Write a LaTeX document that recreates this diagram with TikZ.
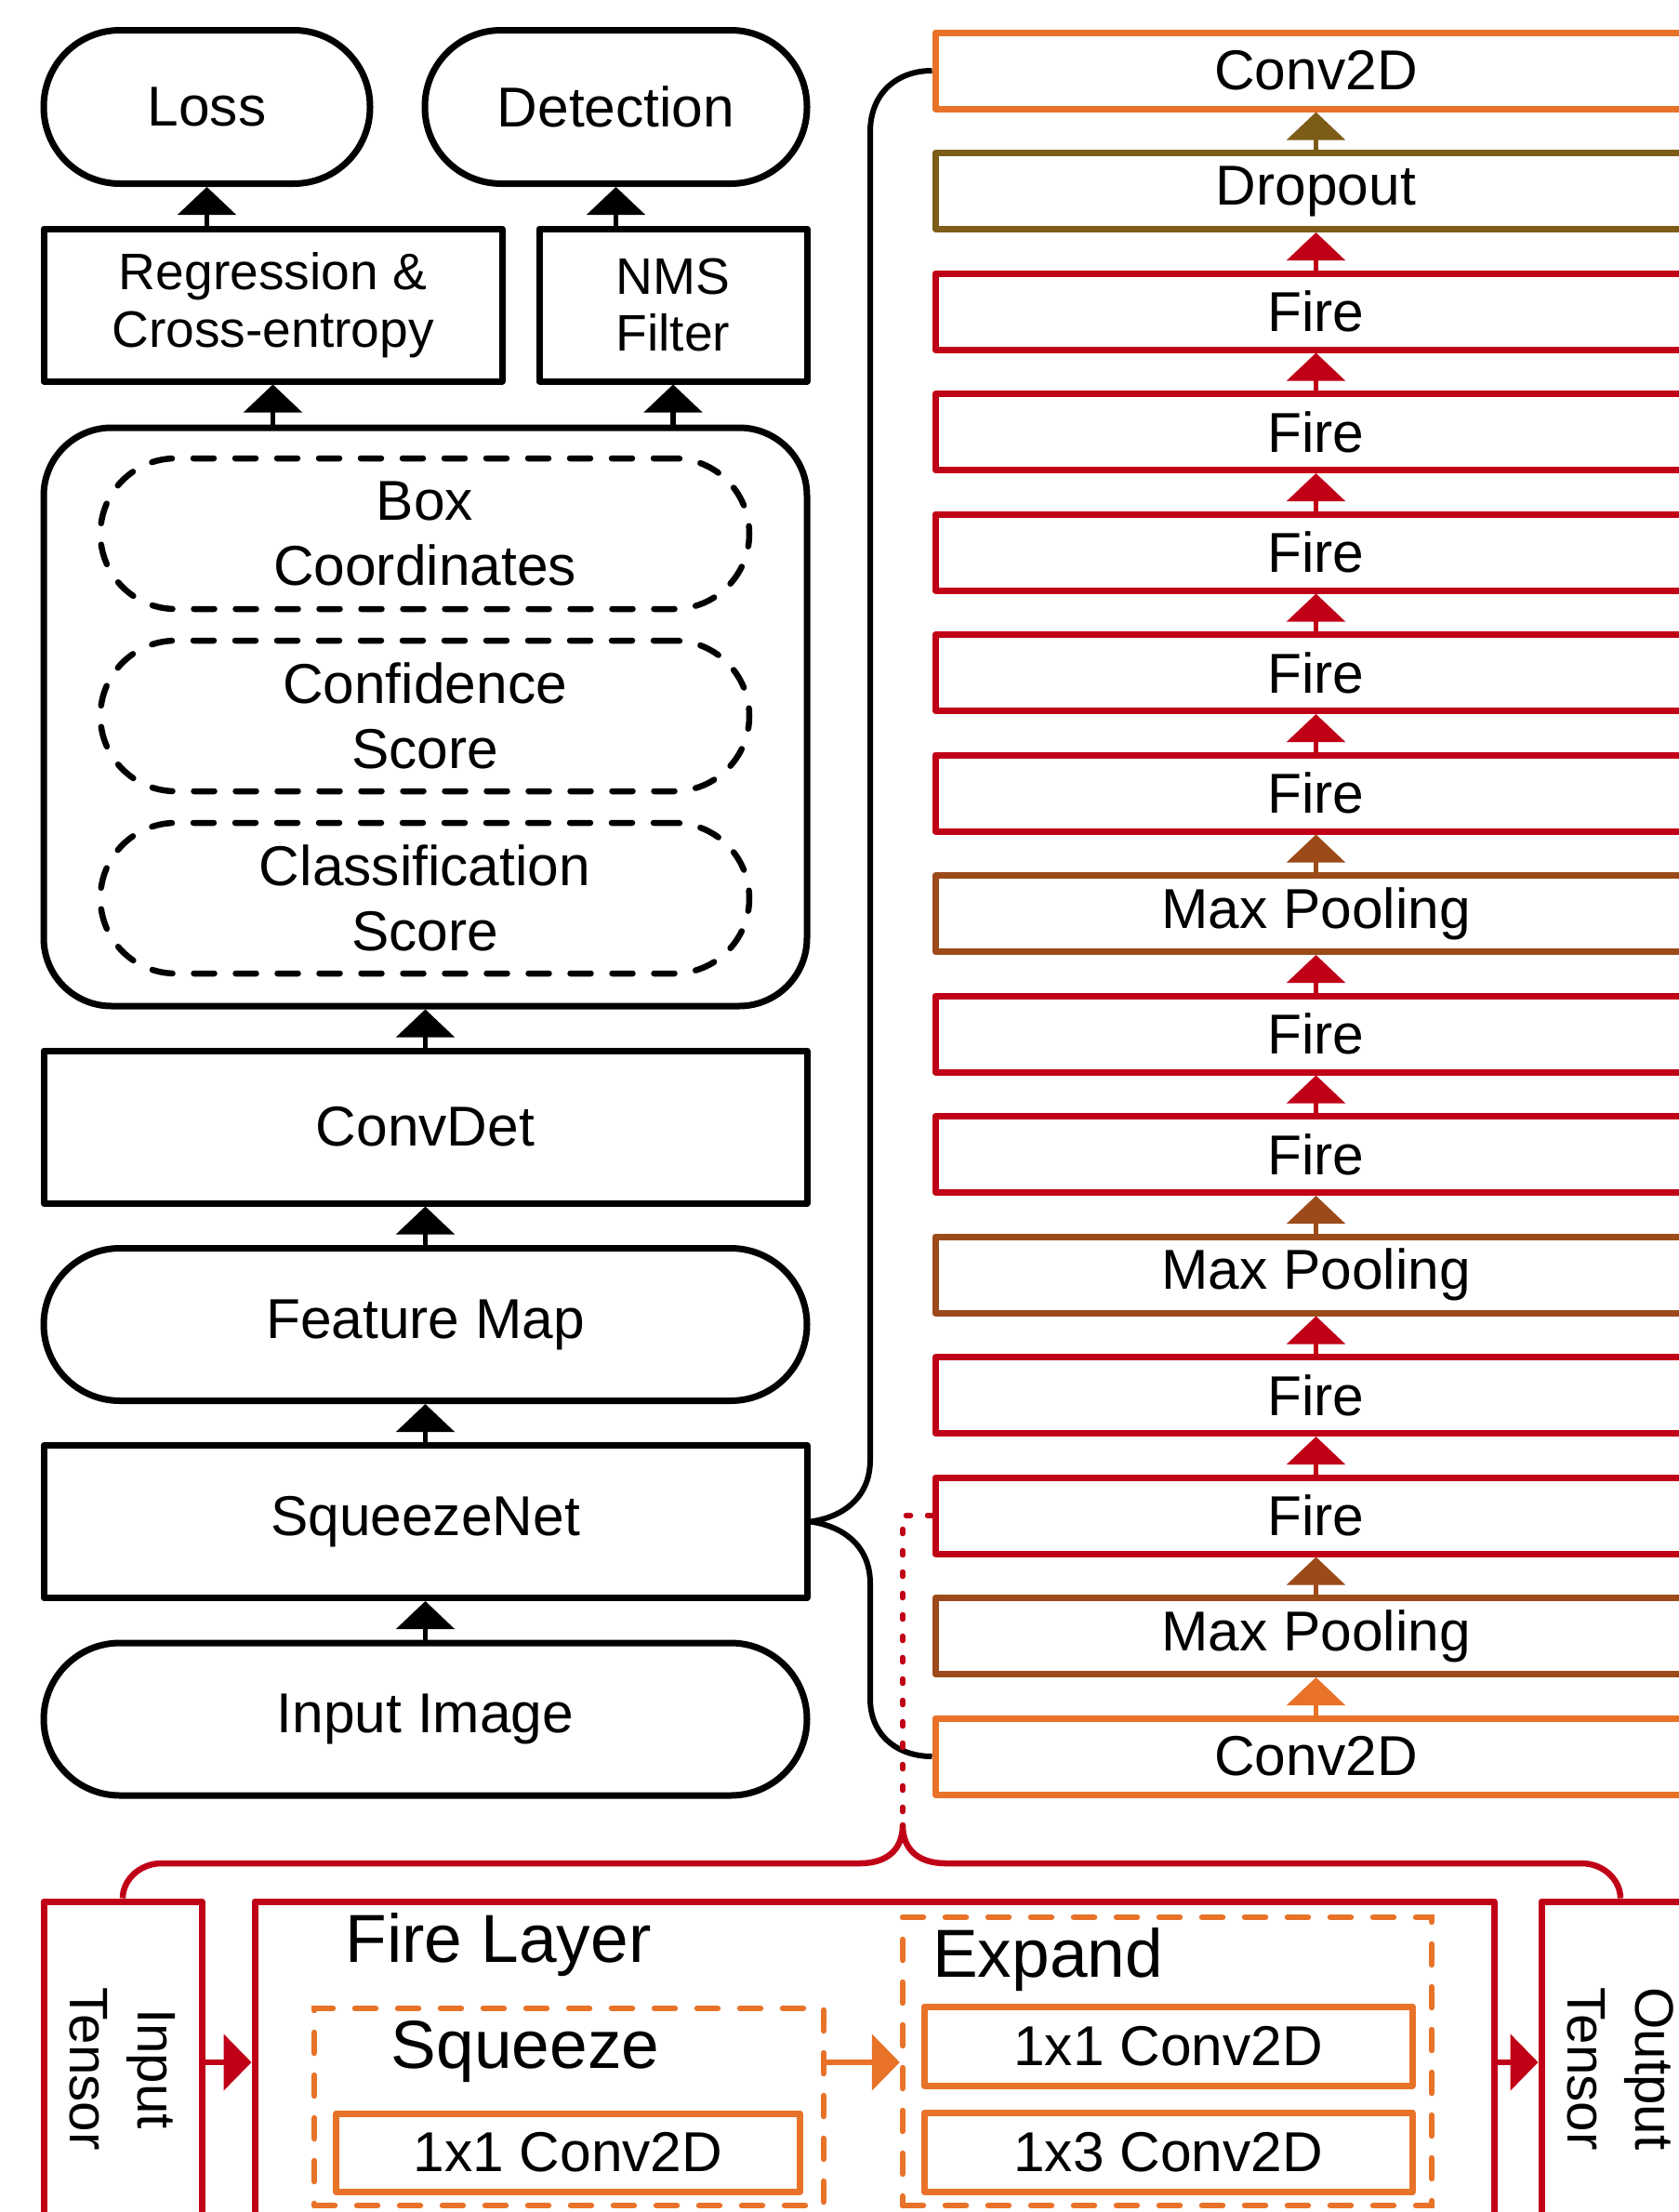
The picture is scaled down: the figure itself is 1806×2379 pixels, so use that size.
\documentclass[tikz,border=0pt]{standalone}
\usepackage{fontspec}
\setmainfont{Liberation Sans}
\usetikzlibrary{arrows.meta}

\definecolor{cvorange}{RGB}{232,114,40}
\definecolor{fired}{RGB}{192,0,23}
\definecolor{poolbrown}{RGB}{156,74,26}
\definecolor{dropolive}{RGB}{125,92,24}

\begin{document}
\begin{tikzpicture}[x=0.1mm, y=-0.1mm,
  lbl/.style={font=\fontsize{17.2}{19.9}\selectfont, align=center},
  smalllbl/.style={font=\fontsize{15.7}{17.6}\selectfont, align=center},
  biglbl/.style={font=\fontsize{20.8}{24}\selectfont, anchor=base},
  tensorlbl/.style={font=\fontsize{16.6}{20.8}\selectfont, align=center, rotate=-90},
  blk/.style={draw=black, line width=0.7mm, lbl, inner sep=0pt, line join=round},
  pill/.style={blk, rounded corners=8.2mm},
  dpill/.style={draw=black, line width=0.65mm, line cap=round, dash pattern=on 2.2mm off 2.3mm,
                rounded corners=8.1mm, lbl, inner sep=0pt, minimum width=69.8mm, minimum height=16.2mm},
  netlayer/.style={draw=#1, line width=0.7mm, lbl, minimum width=81.9mm, minimum height=8.2mm,
                   inner sep=0pt, line join=round},
  redbox/.style={draw=fired, line width=0.7mm, inner sep=0pt, line join=round},
  orbox/.style={draw=cvorange, line width=0.7mm, inner sep=0pt, line join=round, lbl},
  ordash/.style={draw=cvorange, line width=0.65mm, line cap=round, dash pattern=on 2.2mm off 2.4mm, inner sep=0pt},
  uparr/.style={draw=#1, color=#1, line width=0.55mm, -{Triangle[width=6.2mm,length=3mm]}},
  rarr/.style={draw=#1, color=#1, line width=0.55mm, -{Triangle[width=6mm,length=3mm]}},
]
\fill[white] (0,0) rectangle (1806,2379);
\useasboundingbox (0,0) rectangle (1806,2379);
\clip (0,0) rectangle (1806,2379);

% ---------------- detection pipeline (left column) ----------------
\node[pill, minimum width=35.1mm, minimum height=16.5mm] (loss) at (222.5,115) {Loss};
\node[pill, minimum width=41.1mm, minimum height=16.5mm] (det) at (662.5,115) {Detection};
\node[blk, smalllbl, minimum width=49.3mm, minimum height=16.4mm] (reg) at (293.5,328) {Regression \&\\Cross-entropy};
\node[blk, smalllbl, minimum width=28.8mm, minimum height=16.4mm] (nms) at (724,328) {NMS\\Filter};

\node[blk, rounded corners=7.3mm, minimum width=82.1mm, minimum height=62.2mm] (heads) at (457.5,771) {};
\node[dpill] (boxc) at (457,574) {Box\\Coordinates};
\node[dpill] (conf) at (457,770) {Confidence\\Score};
\node[dpill] (cls) at (457,966) {Classification\\Score};

\node[blk, minimum width=82.1mm, minimum height=16.4mm] (cdet) at (457.5,1212) {ConvDet};
\node[pill, minimum width=82.1mm, minimum height=16.4mm] (fmap) at (457.5,1424.5) {Feature Map};
\node[blk, minimum width=82.1mm, minimum height=16.4mm] (sqz) at (457.5,1636.5) {SqueezeNet};
\node[pill, minimum width=82.1mm, minimum height=16.4mm] (inimg) at (457.5,1849) {Input Image};

\draw[uparr=black] (inimg.north) -- (sqz.south);
\draw[uparr=black] (sqz.north) -- (fmap.south);
\draw[uparr=black] (fmap.north) -- (cdet.south);
\draw[uparr=black] (cdet.north) -- (heads.south);
\draw[uparr=black] (heads.north -| reg) -- (reg.south);
\draw[uparr=black] (heads.north -| nms) -- (nms.south);
\draw[uparr=black] (reg.north -| loss) -- (loss.south);
\draw[uparr=black] (nms.north -| det) -- (det.south);

% ---------------- SqueezeNet layers (right column) ----------------
\foreach \t/\c [count=\i from 0] in {Conv2D/cvorange, Dropout/dropolive, Fire/fired, Fire/fired,
    Fire/fired, Fire/fired, Fire/fired, Max Pooling/poolbrown, Fire/fired, Fire/fired,
    Max Pooling/poolbrown, Fire/fired, Fire/fired, Max Pooling/poolbrown, Conv2D/cvorange}
  \node[netlayer=\c] (r\i) at (1415.5,{76+129.5*\i}) {\t};

\foreach \c [count=\i from 1] in {dropolive, fired, fired, fired, fired, fired, poolbrown,
    fired, fired, poolbrown, fired, fired, poolbrown, cvorange} {
  \pgfmathtruncatemacro\j{\i-1}
  \draw[uparr=\c] (r\i.north) -- (r\j.south);
}

% brace from SqueezeNet to its first and last layer
\draw[line width=0.6mm, line join=round] (r0.west) .. controls (965,76) and (936,100) .. (936,142)
  -- (936,1570) .. controls (936,1612) and (905,1632) .. (sqz.east)
  .. controls (905,1641) and (936,1661) .. (936,1703)
  -- (936,1827) .. controls (936,1866) and (965,1889) .. (r14.west);

% ---------------- Fire layer detail (bottom) ----------------
\coordinate (ftip) at (971,1963);
\draw[fired, line width=0.55mm, line cap=round, dash pattern=on 0.5mm off 1.8mm]
  (r12.west) -- (r12.west -| ftip) -- (ftip);

\node[redbox, minimum width=17mm, minimum height=36mm] (inT) at (132,2225) {};
\node[tensorlbl] at (inT.center) {Input\\Tensor};
\node[redbox, minimum width=133.3mm, minimum height=40mm] (fl) at (940.5,2245) {};
\node[redbox, minimum width=17mm, minimum height=36mm] (outT) at (1743,2225) {};
\node[tensorlbl] at (outT.center) {Output\\Tensor};

\draw[fired, line width=0.65mm, line join=round] (inT.north) .. controls (132,2022) and (150,2004) .. (174,2004)
  -- (925,2004) .. controls (953,2004) and (971,1990) .. (ftip)
  .. controls (971,1990) and (989,2004) .. (1017,2004)
  -- (1701,2004) .. controls (1725,2004) and (1743,2022) .. (outT.north);

\node[biglbl] at (536,2110) {Fire Layer};

\node[ordash, minimum width=54.8mm, minimum height=21.2mm] (sqg) at (612,2266) {};
\node[biglbl] at (565,2224) {Squeeze};
\node[orbox, minimum width=49.9mm, minimum height=8.4mm] (sq1) at (611,2315) {1x1 Conv2D};

\node[ordash, minimum width=56.9mm, minimum height=31mm] (exg) at (1255.5,2217) {};
\node[biglbl] at (1127,2126) {Expand};
\node[orbox, minimum width=52.5mm, minimum height=8.5mm] (ex1) at (1256.5,2200.5) {1x1 Conv2D};
\node[orbox, minimum width=52.5mm, minimum height=8.5mm] (ex3) at (1256.5,2315) {1x3 Conv2D};

\draw[rarr=fired] (inT.east |- 0,2218) -- (fl.west |- 0,2218);
\draw[rarr=cvorange] (sqg.east |- 0,2218) -- (exg.west |- 0,2218);
\draw[rarr=fired] (fl.east |- 0,2218) -- (outT.west |- 0,2218);
\end{tikzpicture}
\end{document}
